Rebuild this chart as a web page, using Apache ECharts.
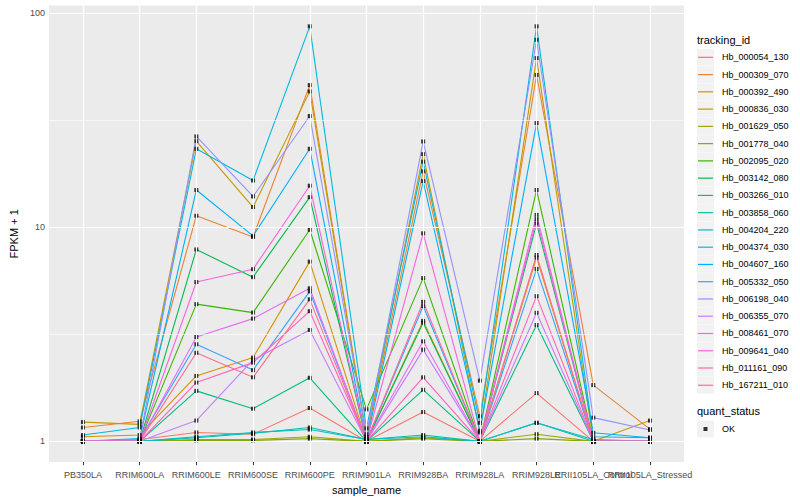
<!DOCTYPE html>
<html><head><meta charset="utf-8">
<script src="https://cdn.jsdelivr.net/npm/echarts@6/dist/echarts.min.js"></script>
<style>html,body{margin:0;padding:0;background:#fff}#c{width:800px;height:500px}</style>
</head><body><div id="c"></div>
<script>
const categories = ['PB350LA','RRIM600LA','RRIM600LE','RRIM600SE','RRIM600PE','RRIM901LA','RRIM928BA','RRIM928LA','RRIM928LE','RRII105LA_Control','RRII105LA_Stressed'];
const trackingIds = ['Hb_000054_130','Hb_000309_070','Hb_000392_490','Hb_000836_030','Hb_001629_050','Hb_001778_040','Hb_002095_020','Hb_003142_080','Hb_003266_010','Hb_003858_060','Hb_004204_220','Hb_004374_030','Hb_004607_160','Hb_005332_050','Hb_006198_040','Hb_006355_070','Hb_008461_070','Hb_009641_040','Hb_011161_090','Hb_167211_010'];
const colors = ['#F8766D','#EA8331','#D89000','#C09B00','#A3A500','#7CAE00','#39B600','#00BB4E','#00BF7D','#00C1A3','#00BFC4','#00BAE0','#00B0F6','#35A2FF','#9590FF','#C77CFF','#E76BF3','#FA62DB','#FF62BC','#FF6C91'];
const yTickValues = [1, 10, 100];
const yMinorValues = [3.1623, 31.623];

const v_000054_130 = [1.00, 1.02, 1.10, 1.08, 1.43, 1.00, 1.37, 1.00, 1.68, 1.00, 1.00];
const v_000309_070 = [1.16, 1.24, 11.3, 9.0, 46.0, 1.05, 18.2, 1.31, 51.3, 1.83, 1.14];
const v_000392_490 = [1.05, 1.07, 2.02, 2.46, 6.9, 1.00, 3.65, 1.00, 7.2, 1.00, 1.00];
const v_000836_030 = [1.23, 1.20, 25.2, 12.4, 43.0, 1.05, 21.9, 1.10, 61.5, 1.00, 1.25];
const v_001629_050 = [1.00, 1.00, 1.02, 1.02, 1.05, 1.00, 1.04, 1.00, 1.08, 1.00, 1.00];
const v_001778_040 = [1.00, 1.00, 1.01, 1.01, 1.03, 1.00, 1.03, 1.00, 1.03, 1.00, 1.00];
const v_002095_020 = [1.00, 1.00, 4.37, 3.99, 9.72, 1.41, 5.78, 1.00, 14.9, 1.00, 1.00];
const v_003142_080 = [1.00, 1.00, 7.86, 5.84, 13.8, 1.00, 3.58, 1.00, 10.4, 1.00, 1.00];
const v_003266_010 = [1.00, 1.00, 1.72, 1.42, 1.98, 1.00, 1.74, 1.00, 3.49, 1.00, 1.00];
const v_003858_060 = [1.00, 1.00, 1.04, 1.09, 1.16, 1.02, 1.07, 1.00, 1.22, 1.00, 1.00];
const v_004204_220 = [1.00, 1.00, 1.05, 1.10, 1.135, 1.02, 1.05, 1.00, 1.22, 1.02, 1.00];
const v_004374_030 = [1.07, 1.16, 23.2, 16.5, 86.5, 1.15, 20.2, 1.22, 86.5, 1.05, 1.04];
const v_004607_160 = [1.00, 1.03, 14.9, 9.1, 23.2, 1.00, 16.4, 1.12, 30.6, 1.096, 1.04];
const v_005332_050 = [1.00, 1.02, 2.84, 2.15, 5.01, 1.00, 4.28, 1.00, 6.38, 1.00, 1.00];
const v_006198_040 = [1.00, 1.02, 26.5, 13.9, 33.0, 1.08, 25.1, 1.92, 74.9, 1.29, 1.13];
const v_006355_070 = [1.00, 1.00, 1.25, 2.40, 3.31, 1.00, 2.68, 1.00, 3.98, 1.00, 1.00];
const v_008461_070 = [1.00, 1.00, 3.07, 3.74, 5.18, 1.00, 2.93, 1.00, 10.9, 1.00, 1.00];
const v_009641_040 = [1.00, 1.00, 5.54, 6.36, 15.6, 1.00, 9.35, 1.00, 11.4, 1.00, 1.00];
const v_011161_090 = [1.00, 1.00, 1.88, 2.33, 4.05, 1.00, 1.99, 1.00, 4.76, 1.00, 1.00];
const v_167211_010 = [1.00, 1.00, 2.59, 1.99, 4.60, 1.00, 4.48, 1.00, 7.41, 1.00, 1.00];

const seriesValues = [v_000054_130, v_000309_070, v_000392_490, v_000836_030, v_001629_050, v_001778_040, v_002095_020, v_003142_080, v_003266_010, v_003858_060, v_004204_220, v_004374_030, v_004607_160, v_005332_050, v_006198_040, v_006355_070, v_008461_070, v_009641_040, v_011161_090, v_167211_010];

const FONT = '"Liberation Sans", Arial, Helvetica, sans-serif';
const chart = echarts.init(document.getElementById('c'), null, {renderer: 'svg'});

const gridLines = [];
yTickValues.forEach(v => gridLines.push({yAxis: v, lineStyle: {width: 1.2}}));
yMinorValues.forEach(v => gridLines.push({yAxis: v, lineStyle: {width: 0.6}}));
categories.forEach((c, i) => gridLines.push({xAxis: i, lineStyle: {width: 1.2}}));

const series = [{
  type: 'line', name: '__grid', data: [], z: 1, silent: true,
  markLine: {silent: true, symbol: 'none', animation: false, label: {show: false},
    lineStyle: {color: '#FFFFFF', type: 'solid'}, data: gridLines}
}];
const points = [];
seriesValues.forEach((vals, k) => {
  series.push({
    type: 'line', name: trackingIds[k], z: 2,
    data: vals.map((v, i) => [i, v]),
    symbol: 'none', color: colors[k],
    lineStyle: {width: 1.1, color: colors[k]}, animation: false
  });
  vals.forEach((v, i) => points.push([i, v]));
});
series.push({type: 'scatter', name: 'OK', z: 3, data: points, symbol: 'rect', symbolSize: 4,
  itemStyle: {color: '#000000'}, animation: false});

const keyBoxes = [];
for (let i = 0; i < trackingIds.length; i++) {
  keyBoxes.push({type: 'rect', shape: {x: 697, y: 48.9 + i * 17.26, width: 17, height: 16.8}, style: {fill: '#F2F2F2'}, z: 0, silent: true});
}
keyBoxes.push({type: 'rect', shape: {x: 697, y: 420.6, width: 17, height: 16.8}, style: {fill: '#F2F2F2'}, z: 0, silent: true});

const idx = categories.map((c, i) => i);
const evenIdx = idx.filter(i => i % 2 === 0);
const oddIdx = idx.filter(i => i % 2 === 1);
function xAxisDef(labelIdx, withName) {
  return {
    type: 'value', min: -0.6, max: 10.6, position: 'bottom', offset: 0,
    name: withName ? 'sample_name' : '', nameLocation: 'middle', nameGap: 19,
    nameTextStyle: {fontSize: 11, color: '#000', fontFamily: FONT},
    axisLine: {show: false},
    axisTick: {show: true, length: 3, lineStyle: {color: '#333333'}, customValues: labelIdx},
    axisLabel: {customValues: labelIdx, formatter: v => categories[Math.round(v)], fontSize: 9, color: '#4D4D4D', margin: 8,
      showMinLabel: true, showMaxLabel: true, hideOverlap: false, fontFamily: FONT},
    splitLine: {show: false}
  };
}

chart.setOption({
  animation: false,
  backgroundColor: '#FFFFFF',
  textStyle: {fontFamily: FONT},
  grid: {left: 41, right: 116, top: 5.6, bottom: 32, show: true, backgroundColor: '#EBEBEB', borderWidth: 0, containLabel: false},
  title: [
    {text: 'tracking_id', left: 697, top: 34, padding: 0, textStyle: {fontSize: 11, fontWeight: 'normal', color: '#000', fontFamily: FONT}},
    {text: 'quant_status', left: 697, top: 405.5, padding: 0, textStyle: {fontSize: 11, fontWeight: 'normal', color: '#000', fontFamily: FONT}}
  ],
  legend: [
    {data: trackingIds, orient: 'vertical', left: 698, top: 48.7, padding: 0, itemGap: 0, itemWidth: 15, itemHeight: 1.2, icon: 'rect',
     selectedMode: false, textStyle: {fontSize: 9, color: '#000', lineHeight: 17.26, padding: [0, 0, 0, 4], fontFamily: FONT}},
    {data: ['OK'], orient: 'vertical', left: 703.5, top: 420.5, padding: 0, itemGap: 0, itemWidth: 4, itemHeight: 4, icon: 'rect',
     selectedMode: false, textStyle: {fontSize: 9, color: '#000', lineHeight: 17, padding: [0, 0, 0, 9.5], fontFamily: FONT}}
  ],
  graphic: keyBoxes,
  xAxis: [xAxisDef(evenIdx, true), xAxisDef(oddIdx, false)],
  yAxis: {
    type: 'log', logBase: 10, min: 0.8, max: 108.1,
    name: 'FPKM + 1', nameLocation: 'middle', nameGap: 28, nameRotate: 90,
    nameTextStyle: {fontSize: 11, color: '#000', fontFamily: FONT},
    axisLine: {show: false},
    axisTick: {show: true, length: 3, lineStyle: {color: '#333333'}, customValues: yTickValues},
    axisLabel: {customValues: yTickValues, formatter: v => String(Math.round(v)), fontSize: 9, color: '#4D4D4D', margin: 4, fontFamily: FONT},
    splitLine: {show: false}, minorSplitLine: {show: false}
  },
  series: series
});
</script></body></html>
